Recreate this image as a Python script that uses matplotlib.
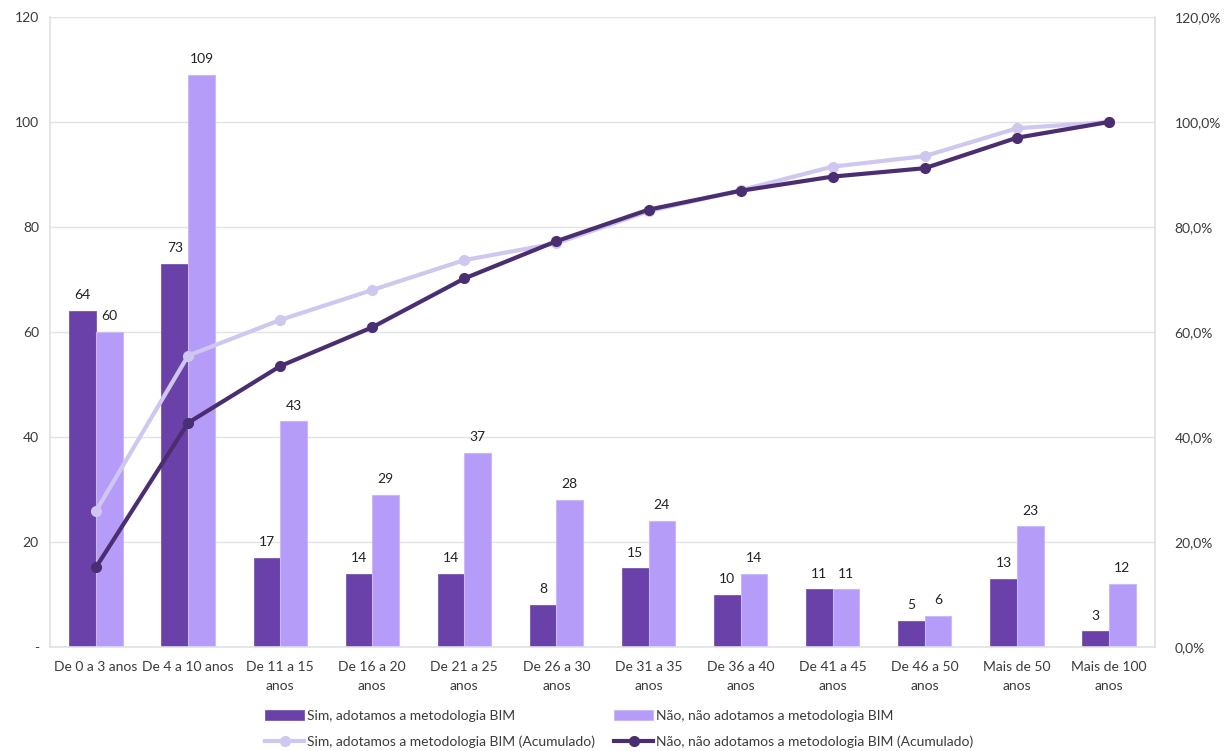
import numpy as np
import matplotlib
matplotlib.use("Agg")
import matplotlib.pyplot as plt
from matplotlib.ticker import FuncFormatter

plt.rcParams['font.family'] = ['Lato', 'DejaVu Sans']

categories = ['De 0 a 3 anos', 'De 4 a 10 anos', 'De 11 a 15\nanos', 'De 16 a 20\nanos',
              'De 21 a 25\nanos', 'De 26 a 30\nanos', 'De 31 a 35\nanos', 'De 36 a 40\nanos',
              'De 41 a 45\nanos', 'De 46 a 50\nanos', 'Mais de 50\nanos', 'Mais de 100\nanos']
sim = [64, 73, 17, 14, 14, 8, 15, 10, 11, 5, 13, 3]
nao = [60, 109, 43, 29, 37, 28, 24, 14, 11, 6, 23, 12]
# cumulative shares (%)
sim_acum = [25.9, 55.5, 62.3, 68.0, 73.7, 76.9, 83.0, 87.0, 91.5, 93.5, 98.8, 100.0]
nao_acum = [15.2, 42.7, 53.5, 60.9, 70.2, 77.3, 83.3, 86.9, 89.6, 91.2, 97.0, 100.0]

c_sim = '#6a41a8'
c_nao = '#b59cf8'
c_sim_line = '#cfc7ef'
c_nao_line = '#4b2d72'
txt = '#3b3b3b'

fig = plt.figure(figsize=(12.24, 7.51), dpi=100)
ax = fig.add_axes([50 / 1224, 1 - 647 / 751, 1105 / 1224, 630 / 751])
x = np.arange(len(categories))
w = 0.29

b1 = ax.bar(x - w / 2, sim, w, color=c_sim, edgecolor='#7a55b5', linewidth=0.6,
            label='Sim, adotamos a metodologia BIM', zorder=2)
b2 = ax.bar(x + w / 2, nao, w, color=c_nao, edgecolor='#c9b9fb', linewidth=0.8,
            label='Não, não adotamos a metodologia BIM', zorder=2)
for bars in (b1, b2):
    for r in bars:
        ax.annotate(f'{int(r.get_height())}', (r.get_x() + r.get_width() / 2, r.get_height()),
                    xytext=(0, 7), textcoords='offset points', ha='center', va='bottom',
                    fontsize=10, color='#222222')

ax.set_xlim(-0.5, len(categories) - 0.5)
ax.set_ylim(0, 120)
ax.set_yticks(range(0, 121, 20))
ax.yaxis.set_major_formatter(FuncFormatter(lambda v, p: '-' if v == 0 else f'{int(v)}'))
ax.set_xticks(x)
ax.set_xticklabels(categories, fontsize=10, color=txt, linespacing=1.75)
ax.grid(axis='y', color='#e3e3e3', linewidth=1, zorder=0)
ax.tick_params(length=0, labelsize=10, colors=txt, pad=8)
ax.tick_params(axis='x', pad=10)
ax.spines['top'].set_visible(False)
for s in ['left', 'right', 'bottom']:
    ax.spines[s].set_color('#e0e0e0')
    ax.spines[s].set_linewidth(1.2)

ax2 = ax.twinx()
l1, = ax2.plot(x, np.array(sim_acum) / 100, color=c_sim_line, lw=3, marker='o', ms=7,
               label='Sim, adotamos a metodologia BIM (Acumulado)', zorder=3)
l2, = ax2.plot(x, np.array(nao_acum) / 100, color=c_nao_line, lw=3, marker='o', ms=7,
               label='Não, não adotamos a metodologia BIM (Acumulado)', zorder=4)
ax2.set_ylim(0, 1.2)
ax2.set_yticks(np.arange(0, 1.21, 0.2))
ax2.yaxis.set_major_formatter(FuncFormatter(lambda v, p: f'{v * 100:.1f}%'.replace('.', ',')))
ax2.tick_params(length=0, labelsize=10, colors=txt, pad=14)
for s in ax2.spines.values():
    s.set_visible(False)

handles = [b1, l1, b2, l2]
fig.legend(handles, [h.get_label() for h in handles],
           loc='center', bbox_to_anchor=(0.506, 1 - 729 / 751), ncol=2, frameon=False,
           fontsize=10, labelcolor=txt, columnspacing=1.4, handlelength=2.8,
           handletextpad=0.2, labelspacing=1.0)

fig.savefig('out.png', dpi=100)
